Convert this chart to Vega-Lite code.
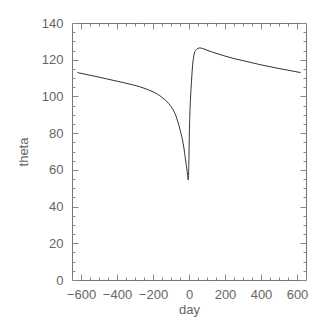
{
  "$schema": "https://vega.github.io/schema/vega-lite/v6.json",
  "autosize": "none",
  "width": 234,
  "height": 257,
  "padding": {"left": 72, "top": 23, "right": 21, "bottom": 47},
  "background": "white",
  "config": {
    "view": {"stroke": "#777", "strokeWidth": 1},
    "axis": {"grid": false, "domain": false, "labelFont": "Liberation Sans", "titleFont": "Liberation Sans", "labelColor": "#666", "titleColor": "#666", "labelFontSize": 13, "titleFontSize": 13, "titleFontWeight": "normal", "tickColor": "#888"}
  },
  "data": {"values": [
    {"day": -620, "theta": 113.0},
    {"day": -500, "theta": 110.5},
    {"day": -400, "theta": 108.3},
    {"day": -300, "theta": 106.0},
    {"day": -250, "theta": 104.5},
    {"day": -200, "theta": 102.5},
    {"day": -150, "theta": 99.5},
    {"day": -100, "theta": 94.5},
    {"day": -75, "theta": 90.0},
    {"day": -50, "theta": 82.0},
    {"day": -30, "theta": 73.0},
    {"day": -20, "theta": 66.0},
    {"day": -10, "theta": 59.0},
    {"day": -4, "theta": 54.5},
    {"day": 0, "theta": 68.0},
    {"day": 2, "theta": 80.0},
    {"day": 5, "theta": 91.0},
    {"day": 10, "theta": 102.0},
    {"day": 15, "theta": 110.0},
    {"day": 20, "theta": 117.0},
    {"day": 25, "theta": 121.0},
    {"day": 30, "theta": 123.6},
    {"day": 40, "theta": 125.5},
    {"day": 60, "theta": 126.4},
    {"day": 80, "theta": 126.0},
    {"day": 100, "theta": 125.2},
    {"day": 150, "theta": 123.5},
    {"day": 200, "theta": 122.0},
    {"day": 250, "theta": 120.6},
    {"day": 300, "theta": 119.5},
    {"day": 400, "theta": 117.2},
    {"day": 500, "theta": 115.2},
    {"day": 620, "theta": 113.0}
  ]},
  "resolve": {"axis": {"x": "independent", "y": "independent"}},
  "layer": [
    {
      "mark": {"type": "line", "color": "#333", "strokeWidth": 1, "interpolate": "monotone"},
      "encoding": {
        "x": {"field": "day", "type": "quantitative", "scale": {"domain": [-650, 650], "nice": false, "zero": false},
              "axis": {"orient": "bottom", "values": [-600, -400, -200, 0, 200, 400, 600], "ticks": false, "labelPadding": 8, "title": "day", "titlePadding": 2}},
        "y": {"field": "theta", "type": "quantitative", "scale": {"domain": [0, 140], "nice": false},
              "axis": {"orient": "left", "values": [0, 20, 40, 60, 80, 100, 120, 140], "ticks": false, "labelPadding": 9, "title": "theta", "titlePadding": 11}}
      }
    },
    {
      "mark": {"type": "line", "strokeOpacity": 0},
      "encoding": {
        "x": {"field": "day", "type": "quantitative", "axis": {"orient": "bottom", "values": [-600, -400, -200, 0, 200, 400, 600], "labels": false, "tickSize": -6, "title": null}},
        "y": {"field": "theta", "type": "quantitative", "axis": {"orient": "left", "values": [0, 20, 40, 60, 80, 100, 120, 140], "labels": false, "tickSize": -6, "title": null}}
      }
    },
    {
      "mark": {"type": "line", "strokeOpacity": 0},
      "encoding": {
        "x": {"field": "day", "type": "quantitative", "axis": {"orient": "bottom", "values": [-650, -550, -500, -450, -350, -300, -250, -150, -100, -50, 50, 100, 150, 250, 300, 350, 450, 500, 550, 650], "labels": false, "tickSize": -3, "title": null}},
        "y": {"field": "theta", "type": "quantitative", "axis": {"orient": "left", "values": [5, 10, 15, 25, 30, 35, 45, 50, 55, 65, 70, 75, 85, 90, 95, 105, 110, 115, 125, 130, 135], "labels": false, "tickSize": -3, "title": null}}
      }
    },
    {
      "mark": {"type": "line", "strokeOpacity": 0},
      "encoding": {
        "x": {"field": "day", "type": "quantitative", "axis": {"orient": "top", "values": [-600, -400, -200, 0, 200, 400, 600], "labels": false, "tickSize": -6, "title": null}},
        "y": {"field": "theta", "type": "quantitative", "axis": {"orient": "right", "values": [0, 20, 40, 60, 80, 100, 120, 140], "labels": false, "tickSize": -6, "title": null}}
      }
    },
    {
      "mark": {"type": "line", "strokeOpacity": 0},
      "encoding": {
        "x": {"field": "day", "type": "quantitative", "axis": {"orient": "top", "values": [-650, -550, -500, -450, -350, -300, -250, -150, -100, -50, 50, 100, 150, 250, 300, 350, 450, 500, 550, 650], "labels": false, "tickSize": -3, "title": null}},
        "y": {"field": "theta", "type": "quantitative", "axis": {"orient": "right", "values": [5, 10, 15, 25, 30, 35, 45, 50, 55, 65, 70, 75, 85, 90, 95, 105, 110, 115, 125, 130, 135], "labels": false, "tickSize": -3, "title": null}}
      }
    }
  ]
}
